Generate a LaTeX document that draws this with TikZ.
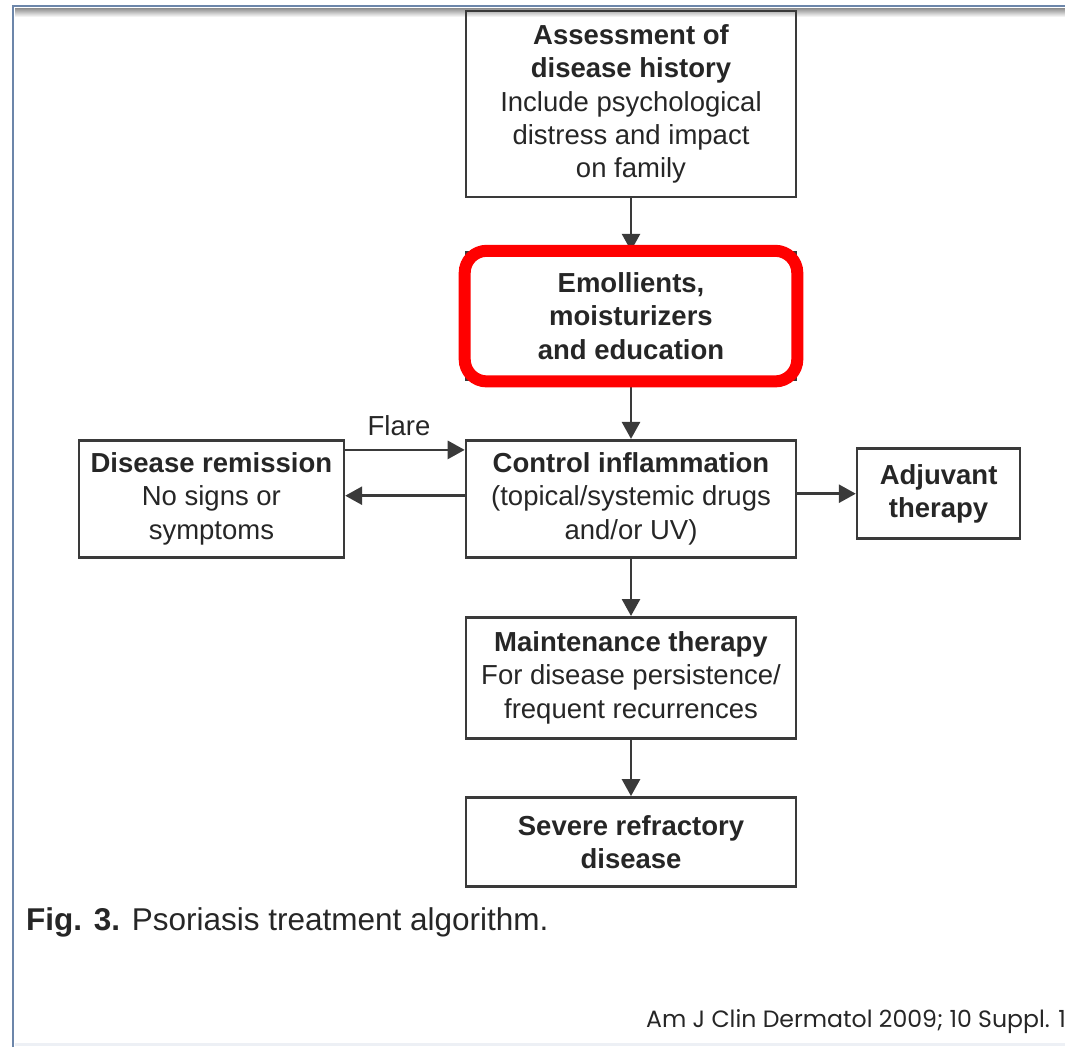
\documentclass[tikz,border=0pt]{standalone}
\usepackage{fontspec}
\setmainfont{Liberation Sans}
\newfontfamily\citefont{Poppins}
\usepackage{tikz}
\usetikzlibrary{arrows.meta,positioning,fit}
\definecolor{boxline}{HTML}{3A3A3A}
\definecolor{txtcol}{HTML}{262626}
\definecolor{framecol}{HTML}{6C86AA}
\tikzset{
    mybox/.style={rectangle, draw=boxline, line width=2.6pt, minimum width=330pt, text=txtcol, inner sep=0pt, align=center},
    markbox/.style={rectangle, rounded corners=22pt, draw=red, line width=12pt, inner sep=0pt},
    arr/.style={->, >={Triangle[length=17pt,width=18pt]}, draw=boxline, line width=2.8pt}
}

\begin{document}
\begin{tikzpicture}[node distance=57pt, font=\fontsize{27.5}{33.3}\selectfont]
    \useasboundingbox (0,0) rectangle (1065pt,-1047pt);
    % page frame
    \shade[top color=black!45, bottom color=white] (15pt,-8pt) rectangle (1065pt,-17pt);
    \draw[framecol, line width=2.5pt] (13pt,-1047pt) -- (13pt,-6pt) -- (1065pt,-6pt);
    \draw[framecol!12, line width=3pt] (15pt,-1044pt) -- (1065pt,-1044pt);

    \node[mybox, minimum height=186pt] (assessment) at (631pt,-104pt)
      {\textbf{Assessment of}\\
      \textbf{disease history}\\
      Include psychological\\
      distress and impact\\
      on family};
    \node[mybox, minimum height=128pt, below=52.5pt of assessment] (emollients)
      {\textbf{Emollients,}\\
      \textbf{moisturizers}\\
      \textbf{and education}}
      edge[arr, <-] (assessment.south);
    \node[mybox, minimum height=117pt, below=57.5pt of emollients] (control)
      {\textbf{Control inflammation}\\
      (topical/systemic drugs\\
      and/or UV)}
      edge[arr, <-] (emollients.south);
    \node[mybox, minimum width=265pt, minimum height=117pt, left=119.5pt of control] (remission)
      {\textbf{Disease remission}\\
      No signs or\\
      symptoms};
    \node[mybox, minimum width=163pt, minimum height=90pt, right=58.5pt of control, yshift=5pt] (adjuvant)
      {\textbf{Adjuvant}\\
      \textbf{therapy}};
    \node[mybox, minimum height=121pt, below=57.5pt of control] (maintenance)
      {\textbf{Maintenance therapy}\\
      For disease persistence/\\
      frequent recurrences}
      edge[arr, <-] (control.south);
    \node[mybox, minimum height=89pt, below=56.5pt of maintenance] (severe)
      {\textbf{Severe refractory}\\
      \textbf{disease}}
      edge[arr, <-] (maintenance.south);

    % side arrows
    \draw[arr] ([yshift=-11pt]remission.north east) -- node[above=13pt, pos=0.45, inner sep=0pt, text=txtcol] (flare) {Flare} ([yshift=-11pt]control.north west);
    \draw[arr] ([yshift=3pt]control.west) -- ([yshift=3pt]remission.east);
    \draw[arr] (control.east |- adjuvant.west) -- (adjuvant.west);

    % red highlight
    \node[markbox, fit=(emollients)] (highlight) {};

    \node[anchor=base west, inner sep=0pt, text=txtcol, font=\fontsize{31.5}{36}\selectfont] (caption) at (26pt,-930pt)
      {\textbf{Fig. 3.} Psoriasis treatment algorithm.};
    \node[anchor=base east, inner sep=0pt, text=txtcol, font=\citefont\fontsize{23.6}{28}\selectfont] (source) at (1066pt,-1027pt)
      {Am J Clin Dermatol 2009; 10 Suppl. 1};
\end{tikzpicture}
\end{document}
